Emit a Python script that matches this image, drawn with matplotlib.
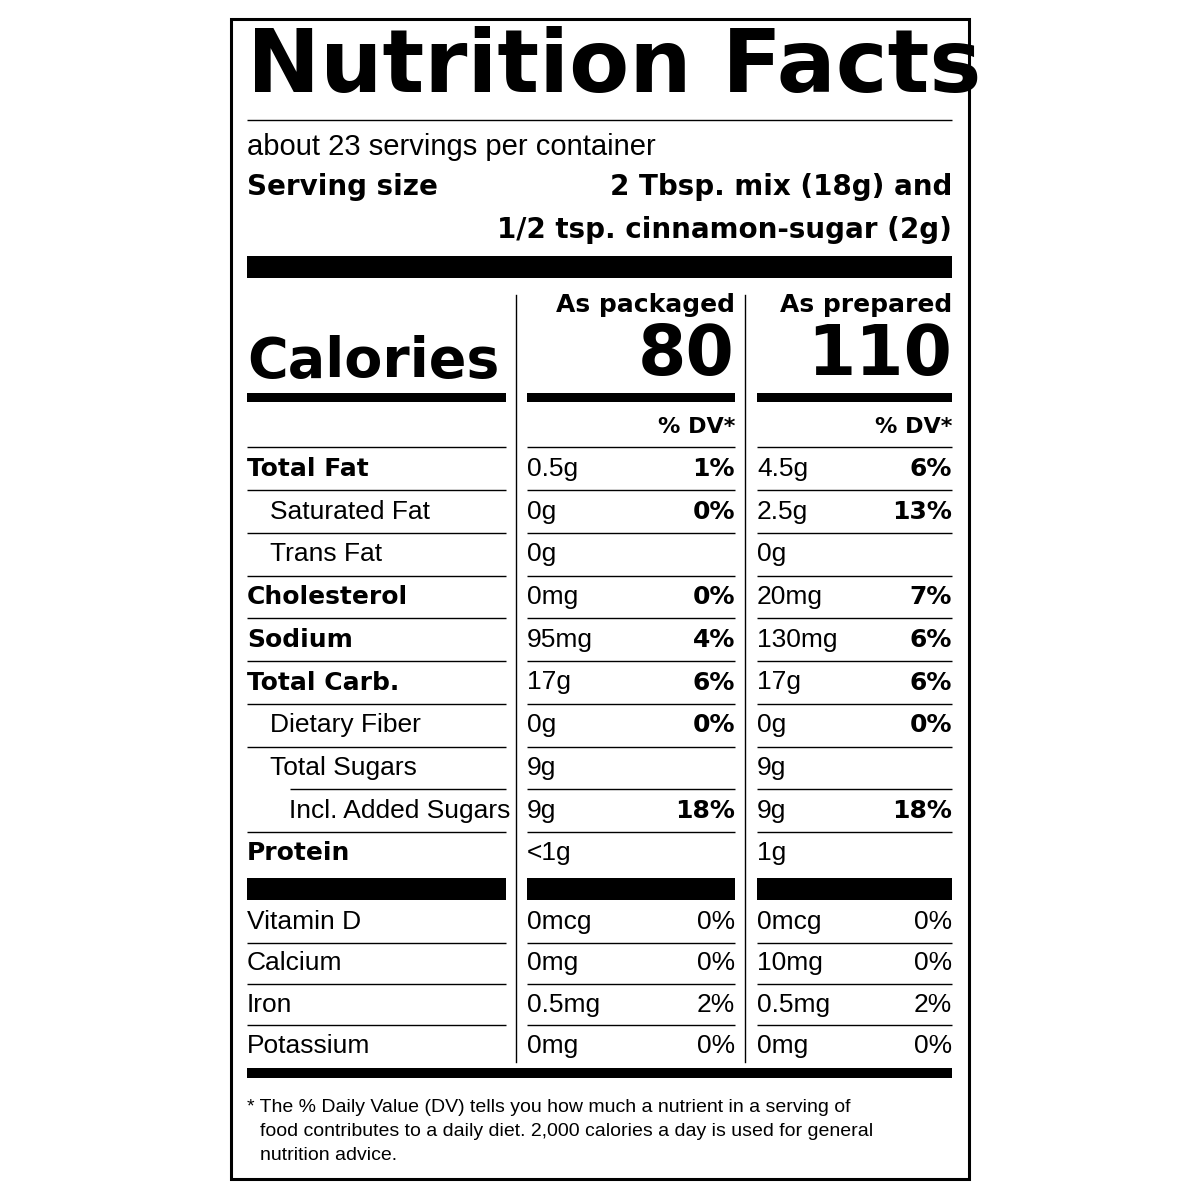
import matplotlib
matplotlib.use("Agg")
import matplotlib.pyplot as plt

W = H = 1200
fig = plt.figure(figsize=(12, 12), dpi=100)
ax = fig.add_axes([0, 0, 1, 1])
ax.set_xlim(0, W); ax.set_ylim(H, 0); ax.axis("off")

REG = "Liberation Sans"
HEAVY = "DejaVu Sans"

labels = ["Total Fat", "Saturated Fat", "Trans Fat", "Cholesterol", "Sodium",
          "Total Carb.", "Dietary Fiber", "Total Sugars", "Incl. Added Sugars", "Protein"]
indent = [0, 1, 1, 0, 0, 0, 1, 1, 2, 0]
pk_amt = ["0.5g", "0g", "0g", "0mg", "95mg", "17g", "0g", "9g", "9g", "<1g"]
pk_dv = ["1%", "0%", "", "0%", "4%", "6%", "0%", "", "18%", ""]
pr_amt = ["4.5g", "2.5g", "0g", "20mg", "130mg", "17g", "0g", "9g", "9g", "1g"]
pr_dv = ["6%", "13%", "", "7%", "6%", "6%", "0%", "", "18%", ""]

vit_labels = ["Vitamin D", "Calcium", "Iron", "Potassium"]
vit_pk_amt = ["0mcg", "0mg", "0.5mg", "0mg"]
vit_pk_dv = ["0%", "0%", "2%", "0%"]
vit_pr_amt = ["0mcg", "10mg", "0.5mg", "0mg"]
vit_pr_dv = ["0%", "0%", "2%", "0%"]

L, R = 247, 952
C1 = (247, 506); C2 = (527, 735); C3 = (757, 952)

def t(x, y, s, size, heavy=False, ha="left"):
    ax.text(x, y, s, fontsize=size, ha=ha, va="center",
            family=HEAVY if heavy else REG, fontweight="heavy" if heavy else "normal")

def hline(x0, x1, y, lw):
    ax.plot([x0, x1], [y, y], color="black", lw=lw, solid_capstyle="butt")

def bar(x0, x1, y0, y1):
    ax.add_patch(plt.Rectangle((x0, y0), x1 - x0, y1 - y0, color="black", lw=0))

# border
ax.add_patch(plt.Rectangle((231, 19), 738, 1160, fill=False, lw=2.2, color="black"))

t(L, 68, "Nutrition Facts", 63, heavy=True)
hline(L, R, 120, 1)
t(L, 147, "about 23 servings per container", 21)
t(L, 187, "Serving size", 20, heavy=True)
t(R, 187, "2 Tbsp. mix (18g) and", 20, heavy=True, ha="right")
t(R, 230, "1/2 tsp. cinnamon-sugar (2g)", 20, heavy=True, ha="right")
bar(L, R, 256, 278)

# column separators
ax.plot([516, 516], [295, 1062], color="black", lw=1)
ax.plot([745, 745], [295, 1062], color="black", lw=1)

t(L, 362, "Calories", 40, heavy=True)
t(C2[1], 305, "As packaged", 18, heavy=True, ha="right")
t(C3[1], 305, "As prepared", 18, heavy=True, ha="right")
t(C2[1], 356, "80", 50, heavy=True, ha="right")
t(C3[1], 356, "110", 50, heavy=True, ha="right")
for c in (C1, C2, C3):
    bar(c[0], c[1], 393, 402)
t(C2[1], 427, "% DV*", 16, heavy=True, ha="right")
t(C3[1], 427, "% DV*", 16, heavy=True, ha="right")
for c in (C1, C2, C3):
    hline(c[0], c[1], 447, 1)

y0, dy = 469, 42.7
for i, lab in enumerate(labels):
    y = y0 + i * dy
    heavy = indent[i] == 0
    t(L + [0, 23, 42][indent[i]], y, lab, 18 if heavy else 19, heavy=heavy)
    t(C2[0], y, pk_amt[i], 19)
    t(C2[1], y, pk_dv[i], 18, heavy=True, ha="right")
    t(C3[0], y, pr_amt[i], 19)
    t(C3[1], y, pr_dv[i], 18, heavy=True, ha="right")
    if i < len(labels) - 1:
        ly = y + dy / 2
        hline(290 if labels[i] == "Total Sugars" else C1[0], C1[1], ly, 1)
        hline(C2[0], C2[1], ly, 1)
        hline(C3[0], C3[1], ly, 1)

for c in (C1, C2, C3):
    bar(c[0], c[1], 878, 900)

vy0, vdy = 922, 41.3
for i, lab in enumerate(vit_labels):
    y = vy0 + i * vdy
    t(L, y, lab, 19)
    t(C2[0], y, vit_pk_amt[i], 19)
    t(C2[1], y, vit_pk_dv[i], 19, ha="right")
    t(C3[0], y, vit_pr_amt[i], 19)
    t(C3[1], y, vit_pr_dv[i], 19, ha="right")
    if i < len(vit_labels) - 1:
        for c in (C1, C2, C3):
            hline(c[0], c[1], y + vdy / 2, 1)

bar(L, R, 1068, 1078)

t(L, 1108, "* The % Daily Value (DV) tells you how much a nutrient in a serving of", 14)
t(L + 13, 1132, "food contributes to a daily diet. 2,000 calories a day is used for general", 14)
t(L + 13, 1156, "nutrition advice.", 14)

fig.savefig("out.png", dpi=100, facecolor="white")
